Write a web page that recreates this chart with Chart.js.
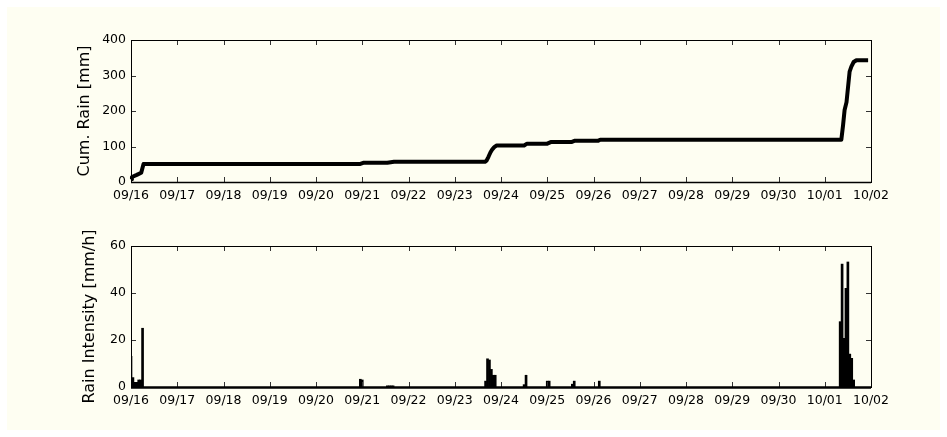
<!DOCTYPE html>
<html lang="en">
<head>
<meta charset="UTF-8">
<meta name="viewport" content="width=device-width, initial-scale=1.0">
<title>Rainfall 09/16 - 10/02</title>
<style>
    html, body { margin: 0; padding: 0; background: #ffffff; }
    #fig { position: absolute; left: 7px; top: 7px; width: 933px; height: 423px; background: #fefef2; }
    .panel { position: absolute; left: 0; width: 947px; }
    #topPanel { top: 0; height: 215px; }
    #bottomPanel { top: 215px; height: 222px; }
</style>
</head>
<body>
<div id="fig"></div>
<div class="panel" id="topPanel"><canvas id="cumChart"></canvas></div>
<div class="panel" id="bottomPanel"><canvas id="rateChart"></canvas></div>

<script src="https://cdn.jsdelivr.net/npm/chart.js@4.4.1/dist/chart.umd.min.js"></script>
<script>
    // x values are hours since 09/16 00:00
    const dayLabels = ['09/16', '09/17', '09/18', '09/19', '09/20', '09/21', '09/22', '09/23',
                       '09/24', '09/25', '09/26', '09/27', '09/28', '09/29', '09/30', '10/01', '10/02'];

    // cumulative rain [mm]
    const cumHours = [0, 0.5, 3, 5.3, 6.5, 119, 120.5, 133, 136.5, 183.7, 184.5, 185.5, 186.5,
                      187.5, 188.5, 189.8, 204, 205.5, 216, 217.8, 228.5, 230.4, 242.5, 243.5,
                      368.6, 369.5, 370.3, 371.3, 372.9, 373.8, 375, 376.4, 382.5];
    const cumRain = [8, 14, 20, 26, 51, 51, 54, 54, 57, 57, 60, 71, 83,
                     92, 98, 103, 103, 108, 108, 112.5, 112.5, 116.5, 116.5, 119,
                     119, 160, 203, 225, 311, 325, 338, 343, 343];

    // hourly rain intensity [mm/h]
    const rateHours = [0, 1, 2, 3, 4, 5, 6, 119, 120, 133, 134, 135, 136,
                       184, 185, 186, 187, 188, 189, 204, 205, 216, 217, 229, 230, 243,
                       368, 369, 370, 371, 372, 373, 374, 375];
    const rateValues = [13, 4, 2, 2, 3, 3, 25, 3.3, 3, 0.5, 0.5, 0.5, 0.5,
                        2.5, 12, 11.5, 7.5, 5, 5, 1, 5, 2.5, 2.5, 1.2, 2.5, 2.5,
                        27.8, 52.3, 20.7, 42, 53.2, 14, 12.2, 3];

    const tickFont = { family: 'DejaVu Sans', size: 12.5 };
    const titleFont = { family: 'DejaVu Sans', size: 16 };

    // box around the plot area with inward ticks on all four sides
    const framePlugin = {
        id: 'frame',
        afterDraw(chart, args, opts) {
            const { ctx, chartArea: a, scales } = chart;
            ctx.save();
            ctx.strokeStyle = '#333';
            ctx.lineWidth = 1;
            ctx.beginPath();
            scales.x.ticks.forEach(t => {
                const px = Math.round(scales.x.getPixelForValue(t.value)) + 0.5;
                ctx.moveTo(px, a.bottom); ctx.lineTo(px, a.bottom - 5);
                ctx.moveTo(px, a.top); ctx.lineTo(px, a.top + 5);
            });
            scales.y.ticks.forEach(t => {
                const py = Math.round(scales.y.getPixelForValue(t.value)) + 0.5;
                ctx.moveTo(a.left, py); ctx.lineTo(a.left + 5, py);
                ctx.moveTo(a.right, py); ctx.lineTo(a.right - 5, py);
            });
            ctx.stroke();

            ctx.strokeStyle = '#000';
            ctx.strokeRect(Math.round(a.left) + 0.5, Math.round(a.top) + 0.5,
                           Math.round(a.right - a.left), Math.round(a.bottom - a.top));
            ctx.lineWidth = opts.baseWidth || 1;
            ctx.beginPath();
            ctx.moveTo(a.left, Math.round(a.bottom) + 0.5);
            ctx.lineTo(a.right, Math.round(a.bottom) + 0.5);
            ctx.stroke();
            ctx.restore();
        }
    };

    function xScale(height) {
        return {
            type: 'linear',
            min: 0,
            max: 384,
            offset: false,
            grid: { display: false, drawTicks: false },
            border: { display: false },
            ticks: {
                stepSize: 24,
                autoSkip: false,
                maxRotation: 0,
                padding: 6,
                color: '#000',
                font: tickFont,
                callback: v => dayLabels[v / 24]
            },
            afterFit: s => { s.height = height; }
        };
    }

    function yScale(max, step, label, titleOffset) {
        return {
            min: 0,
            max: max,
            grid: { display: false, drawTicks: false },
            border: { display: false },
            ticks: { stepSize: step, padding: 5, color: '#000', font: tickFont },
            title: {
                display: true,
                text: label,
                color: '#000',
                font: titleFont,
                padding: { top: titleOffset, bottom: 0 }
            },
            afterFit: s => { s.width = 131; }
        };
    }

    const commonPlugins = { legend: { display: false }, tooltip: { enabled: false } };

    new Chart(document.getElementById('cumChart'), {
        type: 'line',
        data: {
            datasets: [{
                data: cumHours.map((h, i) => ({ x: h, y: cumRain[i] })),
                borderColor: '#000',
                borderWidth: 4,
                borderJoinStyle: 'round',
                pointRadius: 0,
                tension: 0,
                clip: false
            }]
        },
        options: {
            responsive: true,
            maintainAspectRatio: false,
            animation: false,
            layout: { padding: { left: 0, right: 76, top: 40, bottom: 0 } },
            plugins: Object.assign({ frame: { baseWidth: 1.5 } }, commonPlugins),
            scales: {
                x: xScale(33),
                y: yScale(400, 100, 'Cum. Rain [mm]', 75)
            }
        },
        plugins: [framePlugin]
    });

    new Chart(document.getElementById('rateChart'), {
        type: 'bar',
        data: {
            datasets: [{
                data: rateHours.map((h, i) => ({ x: h, y: rateValues[i] })),
                backgroundColor: '#000',
                barThickness: 2,
                borderWidth: 0
            }]
        },
        options: {
            responsive: true,
            maintainAspectRatio: false,
            animation: false,
            layout: { padding: { left: 0, right: 76, top: 31, bottom: 0 } },
            plugins: Object.assign({ frame: { baseWidth: 2.5 } }, commonPlugins),
            scales: {
                x: xScale(50),
                y: yScale(60, 20, 'Rain Intensity [mm/h]', 80)
            }
        },
        plugins: [framePlugin]
    });
</script>
</body>
</html>
